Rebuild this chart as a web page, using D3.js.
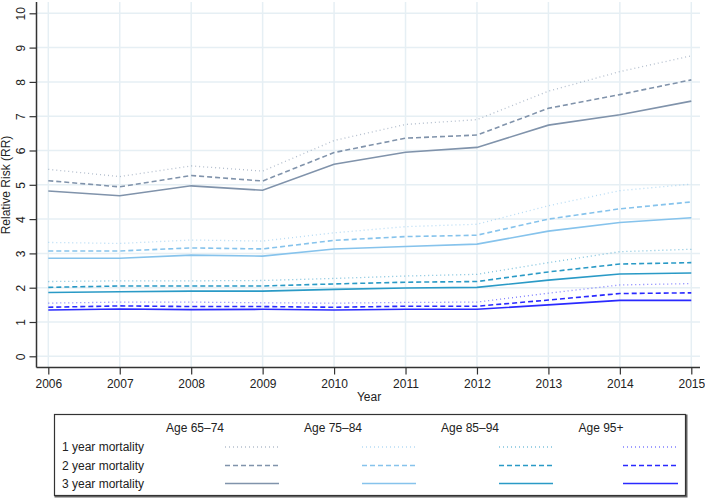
<!DOCTYPE html>
<html><head><meta charset="utf-8">
<script src="https://cdn.jsdelivr.net/npm/d3@7"></script>
<style>body{margin:0;background:#fff}svg{display:block;font-family:"Liberation Sans",Arial,sans-serif}</style>
</head><body><svg id="c" width="705" height="499"></svg>
<script>
const years = [2006,2007,2008,2009,2010,2011,2012,2013,2014,2015];
const yTicks = [0,1,2,3,4,5,6,7,8,9,10];
const ageGroups = ["Age 65–74","Age 75–84","Age 85–94","Age 95+"];
const mortalityLabels = ["1 year mortality","2 year mortality","3 year mortality"];
const ageColors = ["#8093ab","#86c3ec","#2a9ac6","#2a2aff"];
// values [age][mortality]
const age6574_1 = [5.45,5.24,5.55,5.40,6.29,6.76,6.90,7.73,8.30,8.76];
const age6574_2 = [5.12,4.94,5.27,5.11,5.94,6.36,6.45,7.23,7.63,8.06];
const age6574_3 = [4.82,4.68,4.97,4.84,5.60,5.95,6.09,6.74,7.04,7.44];
const age7584_1 = [3.32,3.29,3.39,3.36,3.60,3.78,3.85,4.39,4.83,5.02];
const age7584_2 = [3.07,3.07,3.16,3.13,3.38,3.49,3.53,4.00,4.30,4.50];
const age7584_3 = [2.86,2.86,2.95,2.92,3.13,3.20,3.27,3.65,3.90,4.04];
const age8594_1 = [2.18,2.20,2.20,2.21,2.27,2.34,2.39,2.73,3.05,3.12];
const age8594_2 = [2.01,2.05,2.05,2.05,2.11,2.16,2.18,2.46,2.69,2.73];
const age8594_3 = [1.86,1.88,1.90,1.90,1.95,1.99,2.01,2.22,2.40,2.43];
const age95_1 = [1.55,1.58,1.58,1.56,1.55,1.57,1.58,1.84,2.08,2.12];
const age95_2 = [1.43,1.47,1.45,1.45,1.43,1.46,1.46,1.64,1.83,1.85];
const age95_3 = [1.35,1.38,1.36,1.37,1.35,1.37,1.37,1.50,1.63,1.63];
const seriesData = [
  [age6574_1,age6574_2,age6574_3],
  [age7584_1,age7584_2,age7584_3],
  [age8594_1,age8594_2,age8594_3],
  [age95_1,age95_2,age95_3]
];
const styles = [
  {dash:"1,3", width:1.3, opacity:0.6},
  {dash:"5,3", width:1.6, opacity:1},
  {dash:null, width:1.6, opacity:1}
];

const svg = d3.select("#c");
const x = d3.scaleLinear().domain([2006,2015]).range([48.3,691.3]);
const y = d3.scaleLinear().domain([0,10]).range([356.3,13.3]);
const plotTop = 2, plotBottom = 367.5, plotLeft = 36.5, plotRight = 700;

// grid
const g = svg.append("g");
g.selectAll(".hg").data(yTicks).join("line")
  .attr("x1",plotLeft).attr("x2",plotRight).attr("y1",d=>y(d)).attr("y2",d=>y(d))
  .attr("stroke","#e6eff4").attr("stroke-width",1.5);
g.selectAll(".vg").data(years).join("line")
  .attr("x1",d=>x(d)).attr("x2",d=>x(d)).attr("y1",plotTop).attr("y2",plotBottom)
  .attr("stroke","#e6eff4").attr("stroke-width",1.5);

// lines
const line = d3.line().x((d,i)=>x(years[i])).y(d=>y(d));
seriesData.forEach((grp,a)=>{
  grp.forEach((vals,m)=>{
    const p = svg.append("path").datum(vals).attr("d",line)
      .attr("fill","none").attr("stroke",ageColors[a])
      .attr("stroke-width",styles[m].width).attr("stroke-opacity",styles[m].opacity);
    if(styles[m].dash) p.attr("stroke-dasharray",styles[m].dash);
  });
});

// axes
const yAxis = svg.append("g").attr("transform",`translate(${plotLeft},0)`)
  .call(d3.axisLeft(y).tickValues(yTicks).tickSize(7).tickPadding(9));
yAxis.select(".domain").attr("d",`M0,${plotTop}V${plotBottom}`).attr("stroke","#333").attr("stroke-width",1.5);
yAxis.selectAll(".tick line").attr("stroke","#333").attr("stroke-width",1.2);
yAxis.selectAll(".tick text").attr("font-size",12).attr("fill","#222")
  .attr("transform","rotate(-90)").attr("text-anchor","middle")
  .attr("x",0).attr("dy","0.35em")
  .each(function(d){ d3.select(this).attr("y",-16); });
yAxis.selectAll(".tick text").attr("x",null);
yAxis.selectAll(".tick").each(function(d){
  d3.select(this).select("text").attr("transform","rotate(-90)").attr("x",0).attr("y",-16).attr("dy","0.35em");
});

const xAxis = svg.append("g").attr("transform",`translate(0,${plotBottom})`)
  .call(d3.axisBottom(x).tickValues(years).tickFormat(d3.format("d")).tickSize(7).tickPadding(5));
xAxis.select(".domain").attr("d",`M${plotLeft},0H${plotRight}`).attr("stroke","#333").attr("stroke-width",1.5);
xAxis.selectAll(".tick line").attr("stroke","#333").attr("stroke-width",1.2);
xAxis.selectAll(".tick text").attr("font-size",12).attr("fill","#222");

svg.append("text").attr("x",369).attr("y",401).attr("text-anchor","middle")
  .attr("font-size",12).attr("fill","#222").text("Year");
svg.append("text").attr("transform","translate(10,185) rotate(-90)").attr("text-anchor","middle")
  .attr("font-size",12).attr("fill","#222").text("Relative Risk (RR)");

// legend
const lg = svg.append("g");
lg.append("rect").attr("x",55.5).attr("y",415.5).attr("width",631).attr("height",81)
  .attr("fill","none").attr("stroke","#666").attr("stroke-width",2);
lg.append("rect").attr("x",54.5).attr("y",414.5).attr("width",631).attr("height",81)
  .attr("fill","#fff").attr("stroke","#333").attr("stroke-width",1.2);
const colCenters = [195,333,470,601];
const sampleX = [[225,279],[362,416],[499,553],[623,678]];
const rowY = [447,465.5,483.5];
lg.selectAll(".hdr").data(ageGroups).join("text")
  .attr("x",(d,i)=>colCenters[i]).attr("y",432).attr("text-anchor","middle")
  .attr("font-size",12).attr("fill","#222").text(d=>d);
lg.selectAll(".row").data(mortalityLabels).join("text")
  .attr("x",62).attr("y",(d,i)=>rowY[i]+4).attr("font-size",12).attr("fill","#222").text(d=>d);
ageGroups.forEach((a,ai)=>{
  mortalityLabels.forEach((m,mi)=>{
    const l = lg.append("line").attr("x1",sampleX[ai][0]).attr("x2",sampleX[ai][1])
      .attr("y1",rowY[mi]).attr("y2",rowY[mi])
      .attr("stroke",ageColors[ai]).attr("stroke-width",styles[mi].width).attr("stroke-opacity",styles[mi].opacity);
    if(styles[mi].dash) l.attr("stroke-dasharray",styles[mi].dash);
  });
});
</script></body></html>
